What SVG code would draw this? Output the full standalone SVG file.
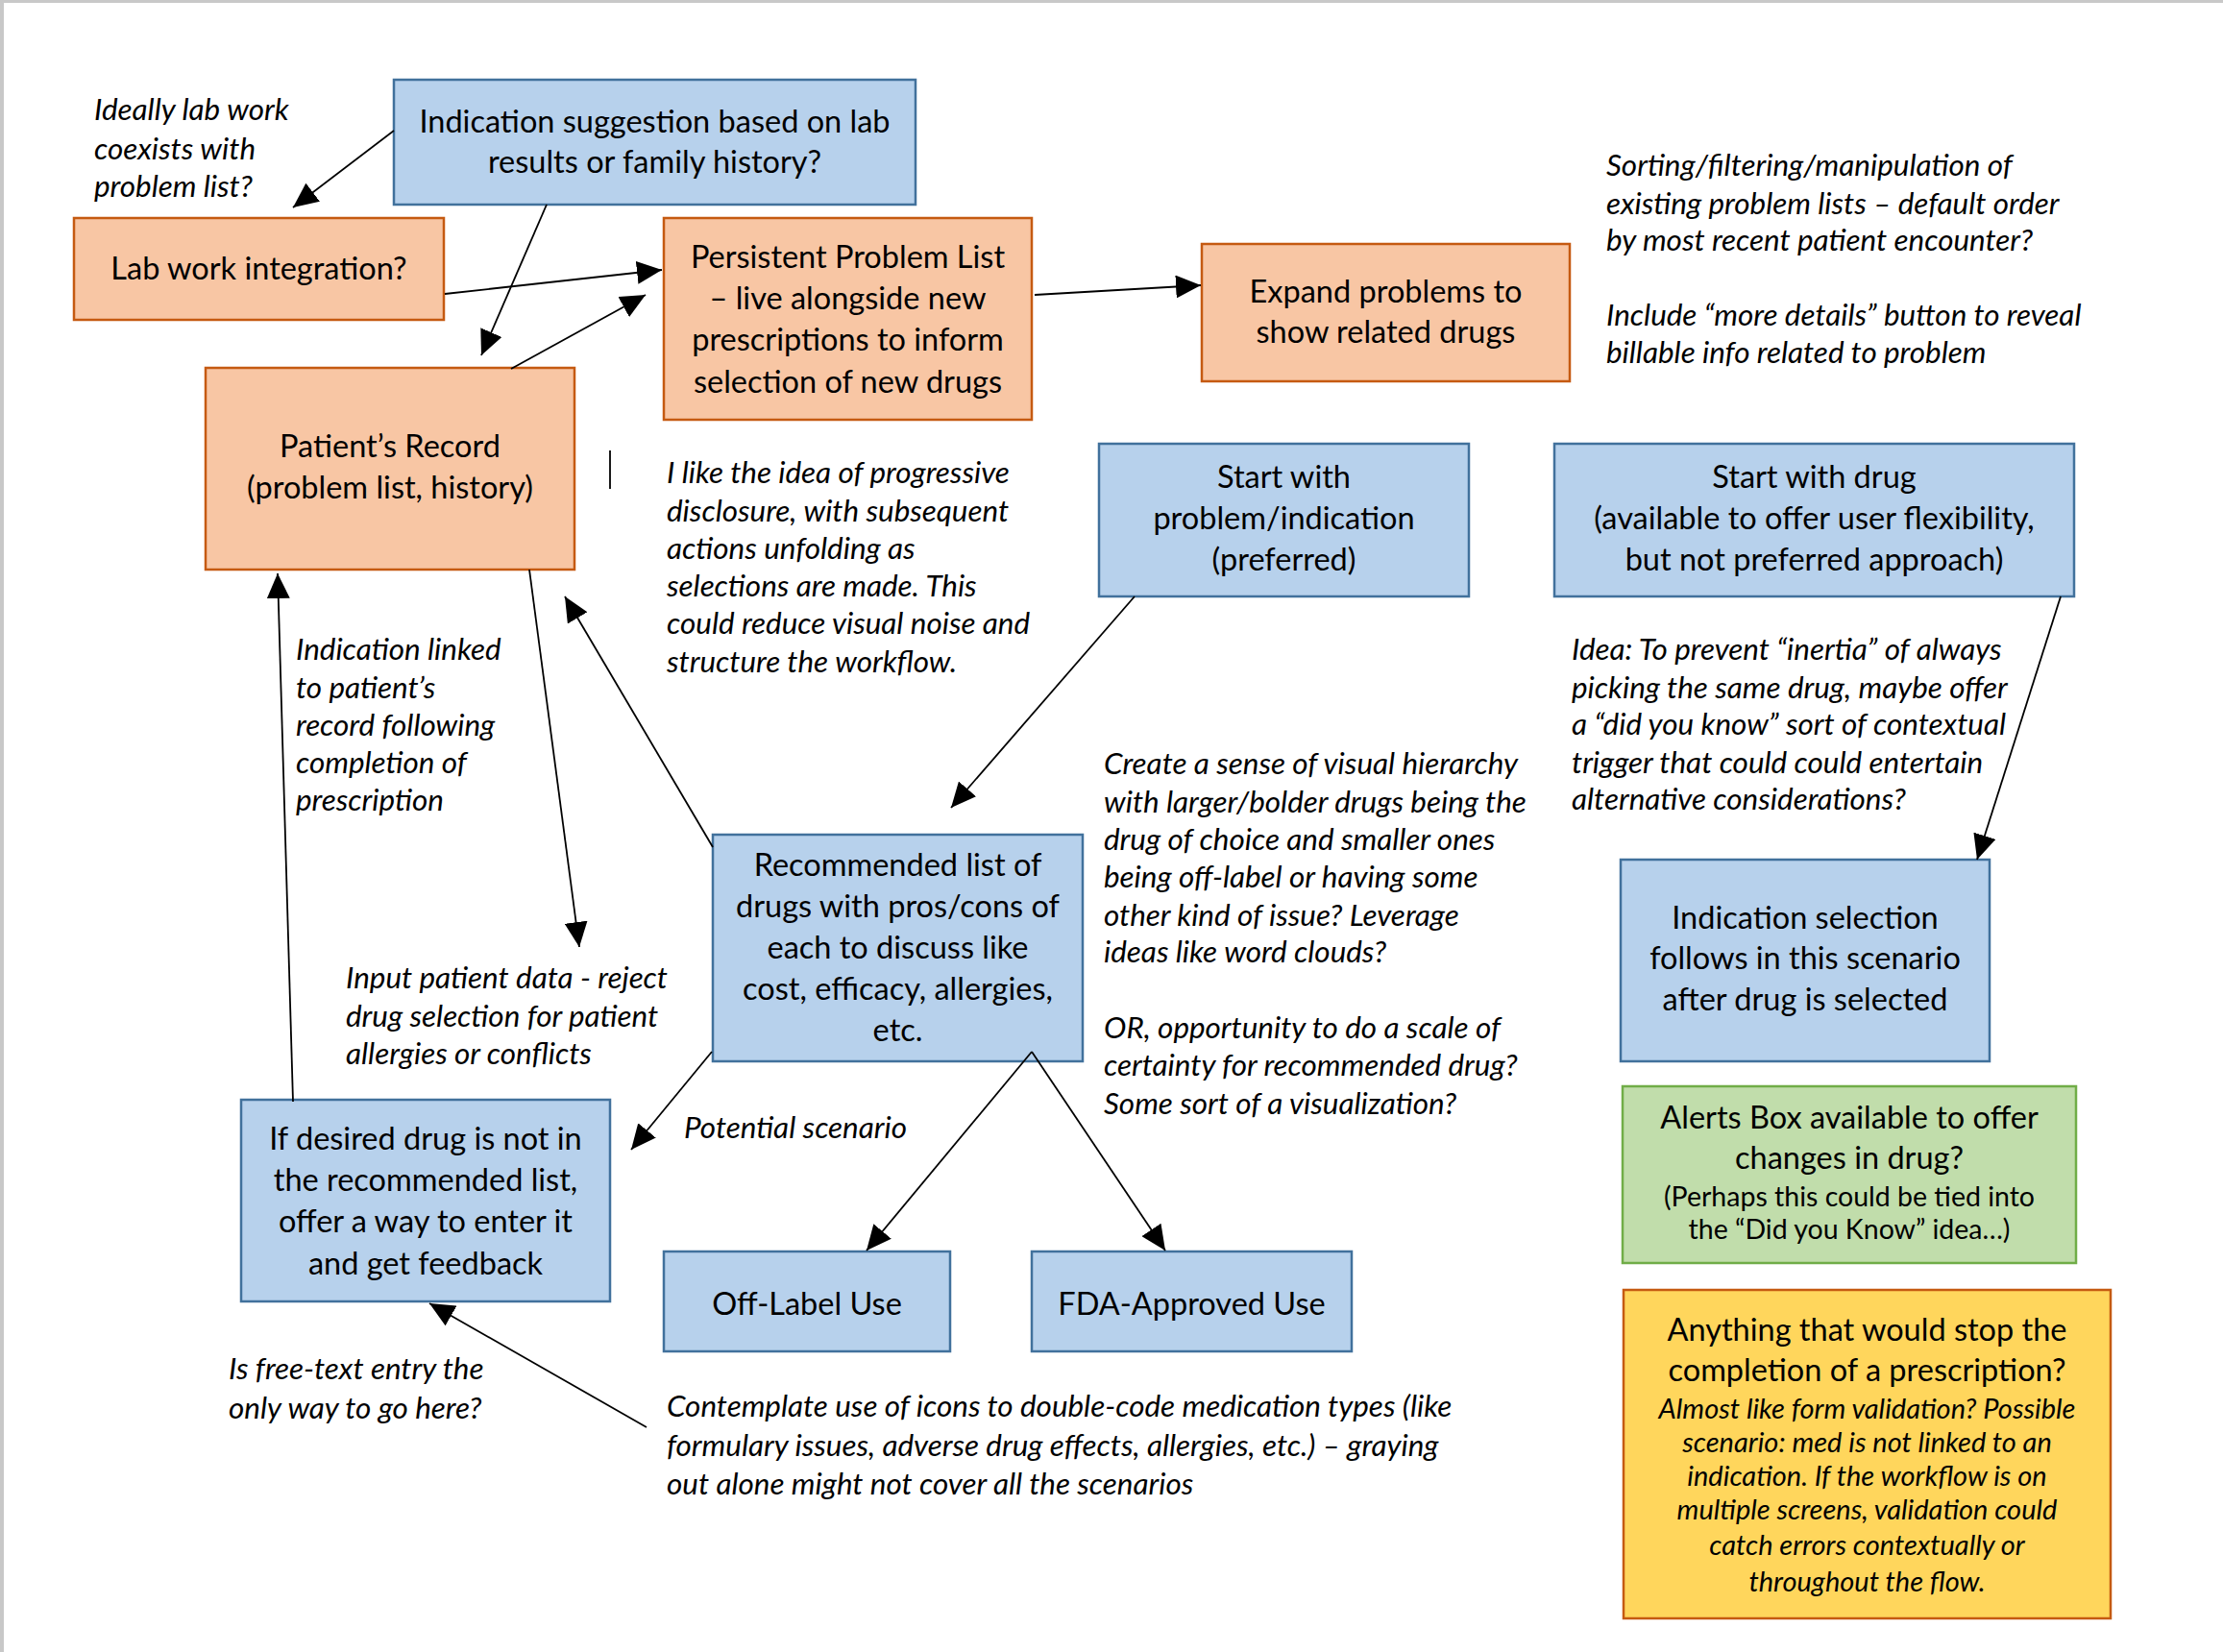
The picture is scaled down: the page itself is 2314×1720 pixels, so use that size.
<svg xmlns="http://www.w3.org/2000/svg" width="2314" height="1720" viewBox="0 0 2314 1720">
<style>
.blue{fill:#b7d1ec;stroke:#41719c;stroke-width:2.5}
.orange{fill:#f8c6a4;stroke:#c55a11;stroke-width:2.5}
.green{fill:#c1ddab;stroke:#70ad47;stroke-width:2.5}
.yellow{fill:#ffd65c;stroke:#c55a11;stroke-width:2.5}
.t{font-family:Lato,"Liberation Sans",sans-serif;font-size:32.5px;fill:#000;text-anchor:middle}
.ts{font-family:Lato,"Liberation Sans",sans-serif;font-size:28.5px;fill:#000;text-anchor:middle}
.tsi{font-family:Lato,"Liberation Sans",sans-serif;font-size:29px;font-style:italic;fill:#000;text-anchor:middle}
.n{font-family:Lato,"Liberation Sans",sans-serif;font-size:31.4px;font-style:italic;fill:#000}
.c{stroke:#000;stroke-width:1.8;fill:none}
.ca{stroke:#000;stroke-width:1.8;fill:none;marker-end:url(#ah)}
</style>
<defs>
<marker id="ah" markerUnits="userSpaceOnUse" markerWidth="26" markerHeight="24" refX="26" refY="12" orient="auto">
<path d="M0,0 L26,12 L0,24 z" fill="#000"/>
</marker>
</defs>
<rect x="0" y="0" width="2314" height="1720" fill="#fff"/>
<line x1="0" y1="1.5" x2="2314" y2="1.5" stroke="#c8c8c8" stroke-width="3"/>
<line x1="2" y1="0" x2="2" y2="1720" stroke="#c8c8c8" stroke-width="4"/>

<g id="node-indication-suggestion">
<rect class="blue" x="410" y="83" width="543" height="130"/>
<text class="t" x="681.5" y="138">Indication suggestion based on lab</text>
<text class="t" x="681.5" y="180">results or family history?</text>
</g>
<g id="node-lab-work">
<rect class="orange" x="77" y="227" width="385" height="106"/>
<text class="t" x="269.5" y="291">Lab work integration?</text>
</g>
<g id="node-persistent">
<rect class="orange" x="691" y="227" width="383" height="210"/>
<text class="t" x="882.5" y="279">Persistent Problem List</text>
<text class="t" x="882.5" y="322">– live alongside new</text>
<text class="t" x="882.5" y="365">prescriptions to inform</text>
<text class="t" x="882.5" y="409">selection of new drugs</text>
</g>
<g id="node-patient-record">
<rect class="orange" x="214" y="383" width="384" height="210"/>
<text class="t" x="406" y="476">Patient’s Record</text>
<text class="t" x="406" y="519">(problem list, history)</text>
</g>
<g id="node-expand">
<rect class="orange" x="1251" y="254" width="383" height="143"/>
<text class="t" x="1442.5" y="315">Expand problems to</text>
<text class="t" x="1442.5" y="357">show related drugs</text>
</g>
<g id="node-start-problem">
<rect class="blue" x="1144" y="462" width="385" height="159"/>
<text class="t" x="1336.5" y="508">Start with</text>
<text class="t" x="1336.5" y="551">problem/indication</text>
<text class="t" x="1336.5" y="594">(preferred)</text>
</g>
<g id="node-start-drug">
<rect class="blue" x="1618" y="462" width="541" height="159"/>
<text class="t" x="1888.5" y="508">Start with drug</text>
<text class="t" x="1888.5" y="551">(available to offer user flexibility,</text>
<text class="t" x="1888.5" y="594">but not preferred approach)</text>
</g>
<g id="node-recommended">
<rect class="blue" x="742" y="869" width="385" height="236"/>
<text class="t" x="934.5" y="912">Recommended list of</text>
<text class="t" x="934.5" y="955">drugs with pros/cons of</text>
<text class="t" x="934.5" y="998">each to discuss like</text>
<text class="t" x="934.5" y="1041">cost, efficacy, allergies,</text>
<text class="t" x="934.5" y="1084">etc.</text>
</g>
<g id="node-indication-selection">
<rect class="blue" x="1687" y="895" width="384" height="210"/>
<text class="t" x="1879" y="967">Indication selection</text>
<text class="t" x="1879" y="1009">follows in this scenario</text>
<text class="t" x="1879" y="1052">after drug is selected</text>
</g>
<g id="node-alerts">
<rect class="green" x="1689" y="1131" width="472" height="184"/>
<text class="t" x="1925" y="1175">Alerts Box available to offer</text>
<text class="t" x="1925" y="1217">changes in drug?</text>
<text class="ts" x="1925" y="1256">(Perhaps this could be tied into</text>
<text class="ts" x="1925" y="1290">the “Did you Know” idea…)</text>
</g>
<g id="node-anything">
<rect class="yellow" x="1690" y="1343" width="507" height="342"/>
<text class="t" x="1943.5" y="1396">Anything that would stop the</text>
<text class="t" x="1943.5" y="1438">completion of a prescription?</text>
<text class="tsi" x="1943.5" y="1477">Almost like form validation? Possible</text>
<text class="tsi" x="1943.5" y="1512">scenario: med is not linked to an</text>
<text class="tsi" x="1943.5" y="1547">indication. If the workflow is on</text>
<text class="tsi" x="1943.5" y="1582">multiple screens, validation could</text>
<text class="tsi" x="1943.5" y="1619">catch errors contextually or</text>
<text class="tsi" x="1943.5" y="1657">throughout the flow.</text>
</g>
<g id="node-if-desired">
<rect class="blue" x="251" y="1145" width="384" height="210"/>
<text class="t" x="443" y="1197">If desired drug is not in</text>
<text class="t" x="443" y="1240">the recommended list,</text>
<text class="t" x="443" y="1283">offer a way to enter it</text>
<text class="t" x="443" y="1327">and get feedback</text>
</g>
<g id="node-off-label">
<rect class="blue" x="691" y="1303" width="298" height="104"/>
<text class="t" x="840" y="1369">Off-Label Use</text>
</g>
<g id="node-fda">
<rect class="blue" x="1074" y="1303" width="333" height="104"/>
<text class="t" x="1240.5" y="1369">FDA-Approved Use</text>
</g>

<g id="notes">
<text class="n" x="98" y="125">Ideally lab work</text>
<text class="n" x="98" y="166">coexists with</text>
<text class="n" x="98" y="205">problem list?</text>

<text class="n" x="1672" y="183">Sorting/filtering/manipulation of</text>
<text class="n" x="1672" y="223">existing problem lists – default order</text>
<text class="n" x="1672" y="261">by most recent patient encounter?</text>
<text class="n" x="1672" y="339">Include “more details” button to reveal</text>
<text class="n" x="1672" y="378">billable info related to problem</text>

<text class="n" x="694" y="503">I like the idea of progressive</text>
<text class="n" x="694" y="543">disclosure, with subsequent</text>
<text class="n" x="694" y="582">actions unfolding as</text>
<text class="n" x="694" y="621">selections are made. This</text>
<text class="n" x="694" y="660">could reduce visual noise and</text>
<text class="n" x="694" y="700">structure the workflow.</text>

<text class="n" x="308" y="687">Indication linked</text>
<text class="n" x="308" y="727">to patient’s</text>
<text class="n" x="308" y="766">record following</text>
<text class="n" x="308" y="805">completion of</text>
<text class="n" x="308" y="844">prescription</text>

<text class="n" x="360" y="1029">Input patient data - reject</text>
<text class="n" x="360" y="1069">drug selection for patient</text>
<text class="n" x="360" y="1108">allergies or conflicts</text>

<text class="n" x="1149" y="806">Create a sense of visual hierarchy</text>
<text class="n" x="1149" y="846">with larger/bolder drugs being the</text>
<text class="n" x="1149" y="885">drug of choice and smaller ones</text>
<text class="n" x="1149" y="924">being off-label or having some</text>
<text class="n" x="1149" y="964">other kind of issue? Leverage</text>
<text class="n" x="1149" y="1002">ideas like word clouds?</text>
<text class="n" x="1149" y="1081">OR, opportunity to do a scale of</text>
<text class="n" x="1149" y="1120">certainty for recommended drug?</text>
<text class="n" x="1149" y="1160">Some sort of a visualization?</text>

<text class="n" x="1636" y="687">Idea: To prevent “inertia” of always</text>
<text class="n" x="1636" y="727">picking the same drug, maybe offer</text>
<text class="n" x="1636" y="765">a “did you know” sort of contextual</text>
<text class="n" x="1636" y="805">trigger that could could entertain</text>
<text class="n" x="1636" y="843">alternative considerations?</text>

<text class="n" x="712" y="1185">Potential scenario</text>

<text class="n" x="238" y="1436">Is free-text entry the</text>
<text class="n" x="238" y="1477">only way to go here?</text>

<text class="n" x="694" y="1475">Contemplate use of icons to double-code medication types (like</text>
<text class="n" x="694" y="1516">formulary issues, adverse drug effects, allergies, etc.) – graying</text>
<text class="n" x="694" y="1556">out alone might not cover all the scenarios</text>
</g>

<g id="connectors">
<line class="ca" x1="410" y1="136" x2="305" y2="216"/>
<line class="ca" x1="569" y1="213" x2="501" y2="370"/>
<line class="ca" x1="463" y1="306" x2="689" y2="281"/>
<line class="ca" x1="532" y1="384" x2="672" y2="307"/>
<line class="ca" x1="1077" y1="307" x2="1250" y2="297"/>
<line class="ca" x1="551" y1="593" x2="603" y2="986"/>
<line class="ca" x1="742" y1="882" x2="588" y2="621"/>
<line class="ca" x1="305" y1="1147" x2="289" y2="597"/>
<line class="ca" x1="1181" y1="621" x2="990" y2="841"/>
<line class="ca" x1="2145" y1="621" x2="2058" y2="895"/>
<line class="ca" x1="741" y1="1095" x2="657" y2="1197"/>
<line class="ca" x1="1074" y1="1095" x2="902" y2="1302"/>
<line class="ca" x1="1074" y1="1095" x2="1213" y2="1302"/>
<line class="ca" x1="673" y1="1486" x2="447" y2="1357"/>
<line class="c" x1="635" y1="469" x2="635" y2="509" stroke-width="1.5"/>
</g>
</svg>
